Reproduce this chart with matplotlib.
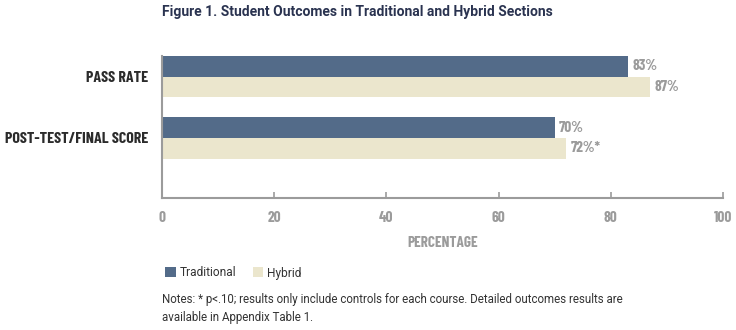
"""Student outcomes in traditional and hybrid sections."""
import matplotlib
matplotlib.use('Agg')
from matplotlib import pyplot as plt
from matplotlib.patches import Patch
import numpy as np

categories = ['PASS RATE', 'POST-TEST/FINAL SCORE']
traditional = [83, 70]
hybrid = [87, 72]
trad_labels = ['83%', '70%']
hybrid_labels = ['87%', '72%*']
xticks = [0, 20, 40, 60, 80, 100]

navy = '#536b89'
cream = '#ebe6cd'
grey = '#9b9b9b'
narrow = ['Barlow Condensed', 'DejaVu Sans']
body = ['Roboto', 'DejaVu Sans']

fig = plt.figure(figsize=(7.36, 3.30), dpi=100)
ax = fig.add_axes([0.2201, 0.40, 0.7622, 0.4303])

y = np.arange(len(categories))
h = 0.337
ax.barh(y - h / 2, traditional, height=h, color=navy)
ax.barh(y + h / 2, hybrid, height=h, color=cream)

lab = dict(color=grey, fontsize=11, fontweight='bold', family=narrow)
for i in range(len(categories)):
    ax.text(traditional[i] + 0.8, y[i] - h / 2, trad_labels[i], va='center', ha='left', **lab)
    ax.text(hybrid[i] + 0.8, y[i] + h / 2, hybrid_labels[i], va='center', ha='left', **lab)

ax.set_xlim(0, 100)
ax.set_ylim(1.979, -0.337)
ax.set_yticks(y)
ax.set_yticklabels(categories, fontsize=11.5, fontweight='bold', color='#2b2b2b', family=narrow)
ax.tick_params(axis='y', length=0, pad=10)
ax.set_xticks(xticks)
ax.set_xticklabels([str(t) for t in xticks], **lab)
ax.tick_params(axis='x', direction='in', length=4, width=1.2, color=grey, pad=9)

for side in ['top', 'right']:
    ax.spines[side].set_visible(False)
for side in ['left', 'bottom']:
    ax.spines[side].set_color(grey)
    ax.spines[side].set_linewidth(1.5)

ax.set_xlabel('PERCENTAGE', labelpad=8, **lab)

# Title and notes
fig.text(162 / 736, 1 - 12 / 330, 'Figure 1. Student Outcomes in Traditional and Hybrid Sections',
         ha='left', va='center', fontsize=10, fontweight='bold', color='#2a3350', family=body)

handles = [Patch(facecolor=navy, label='Traditional'), Patch(facecolor=cream, label='Hybrid')]
fig.legend(handles=handles, loc='center left', bbox_to_anchor=(159 / 736, 1 - 273 / 330),
           ncol=2, frameon=False, prop={'family': body, 'size': 8.6},
           handlelength=0.9, handleheight=0.9,
           handletextpad=0.3, columnspacing=1.4, borderpad=0, labelcolor='#333333')

notes = dict(ha='left', va='center', fontsize=8.3, color='#333333', family=body)
fig.text(162 / 736, 1 - 300 / 330,
         'Notes: * p<.10; results only include controls for each course. Detailed outcomes results are',
         **notes)
fig.text(162 / 736, 1 - 318 / 330, 'available in Appendix Table 1.', **notes)

fig.savefig('out.png', dpi=100)
